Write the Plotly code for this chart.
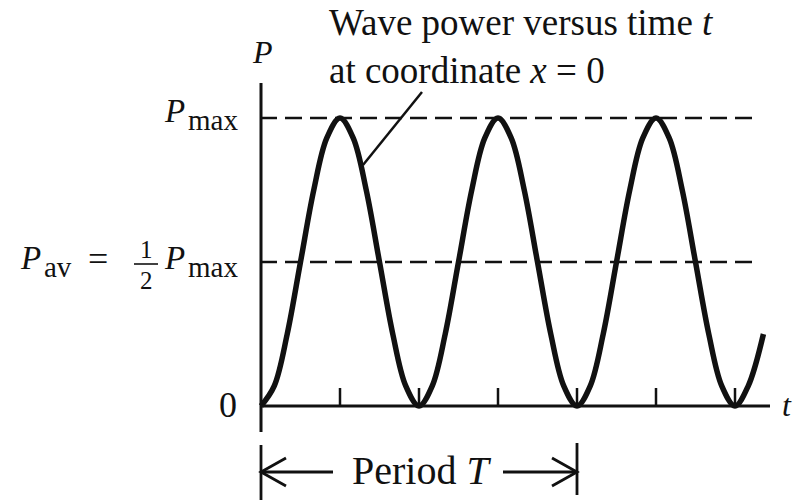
import plotly.graph_objects as go

# ---- data (time in units of the wave period T, power in units of P_max) ----
t_values = [0.000, 0.042, 0.083, 0.125, 0.167, 0.208, 0.250, 0.292, 0.333, 0.375, 0.417, 0.458,
            0.500, 0.542, 0.583, 0.625, 0.667, 0.708, 0.750, 0.792, 0.833, 0.875, 0.917, 0.958,
            1.000, 1.042, 1.083, 1.125, 1.167, 1.208, 1.250, 1.292, 1.333, 1.375, 1.417, 1.458,
            1.500, 1.542, 1.590]
power_values = [0.00, 0.07, 0.25, 0.50, 0.75, 0.93, 1.00, 0.93, 0.75, 0.50, 0.25, 0.07,
                0.00, 0.07, 0.25, 0.50, 0.75, 0.93, 1.00, 0.93, 0.75, 0.50, 0.25, 0.07,
                0.00, 0.07, 0.25, 0.50, 0.75, 0.93, 1.00, 0.93, 0.75, 0.50, 0.25, 0.07,
                0.00, 0.07, 0.25]
x_ticks = [0.25, 0.50, 0.75, 1.00, 1.25, 1.50]
p_max = 1.0
p_av = 0.5
period = 1.0

FONT = "Liberation Serif"
BLACK = "#111111"

# page-pixel helpers
def X(px):
    return (px - 261) / 316.0

def Y(py):
    return (406 - py) / 288.0

fig = go.Figure()
fig.add_trace(go.Scatter(
    x=t_values, y=power_values, mode="lines",
    line=dict(color=BLACK, width=5.5, shape="spline", smoothing=1.0),
    hoverinfo="skip", showlegend=False))

shapes = []
def seg(x0, y0, x1, y1, w=2.8, dash="solid", layer="above"):
    shapes.append(dict(type="line", xref="x", yref="y", x0=x0, y0=y0, x1=x1, y1=y1,
                       line=dict(color=BLACK, width=w, dash=dash), layer=layer))

# axes
seg(0, Y(432), 0, Y(83), w=3)
seg(0, 0, X(770), 0, w=3)
for xt in x_ticks:
    seg(xt, 0, xt, Y(388), w=2.5)
# y ticks + dashed reference levels
for lvl in (p_max, p_av):
    seg(0, lvl, X(277), lvl, w=2.5)
    seg(X(285), lvl, X(760), lvl, w=2.5, dash="17px,8px", layer="below")

# leader line for the caption
seg(X(363), Y(165), X(422), Y(92), w=2.5)

# period bracket
seg(0, Y(445), 0, Y(500), w=2.8)
seg(period, Y(443), period, Y(495), w=2.8)
ya = Y(472)
seg(0, ya, X(333), ya, w=2.8)
seg(X(503), ya, period, ya, w=2.8)
dx, dy = 25 / 316.0, 14 / 288.0
shapes.append(dict(type="path", xref="x", yref="y",
                   path=f"M {dx},{ya+dy} L 0,{ya} L {dx},{ya-dy}",
                   line=dict(color=BLACK, width=2.8)))
shapes.append(dict(type="path", xref="x", yref="y",
                   path=f"M {period-dx},{ya+dy} L {period},{ya} L {period-dx},{ya-dy}",
                   line=dict(color=BLACK, width=2.8)))
# fraction bar
seg(X(134), Y(264), X(158), Y(264), w=1.6)

annotations = []
def txt(px, py, text, size=32, xanchor="center", yanchor="middle", align="center"):
    annotations.append(dict(x=X(px), y=Y(py), xref="x", yref="y", text=text, showarrow=False,
                            xanchor=xanchor, yanchor=yanchor, align=align,
                            font=dict(family=FONT, size=size, color=BLACK)))

txt(327, 0, "Wave power versus time <i>t</i><br>at coordinate <i>x</i> = 0",
    size=37, xanchor="left", yanchor="top", align="left")
txt(262, 52, "<i>P</i>", size=32)
# P_max label at the top level
txt(187, 111, "<i>P</i>", size=33, xanchor="right")
txt(186, 120, "max", size=29, xanchor="left")
# P_av = 1/2 P_max label
txt(43, 258, "<i>P</i>", size=33, xanchor="right")
txt(42, 267, "av", size=29, xanchor="left")
txt(98, 259, "=", size=36)
txt(146, 249, "1", size=25)
txt(146, 280, "2", size=25)
txt(187, 258, "<i>P</i>", size=33, xanchor="right")
txt(186, 267, "max", size=29, xanchor="left")
# axis labels
txt(228, 405, "0", size=36)
txt(787, 405, "<i>t</i>", size=32)
txt(421, 470, "Period <i>T</i>", size=40)

fig.update_layout(
    width=802, height=500,
    margin=dict(l=0, r=0, t=0, b=0),
    paper_bgcolor="white", plot_bgcolor="white",
    xaxis=dict(visible=False, range=[X(0), X(802)], fixedrange=True),
    yaxis=dict(visible=False, range=[Y(500), Y(0)], fixedrange=True),
    shapes=shapes, annotations=annotations,
    showlegend=False,
)
fig.write_html("out.html", config={"displayModeBar": False, "staticPlot": True},
               post_script="document.body.style.margin='0';")
